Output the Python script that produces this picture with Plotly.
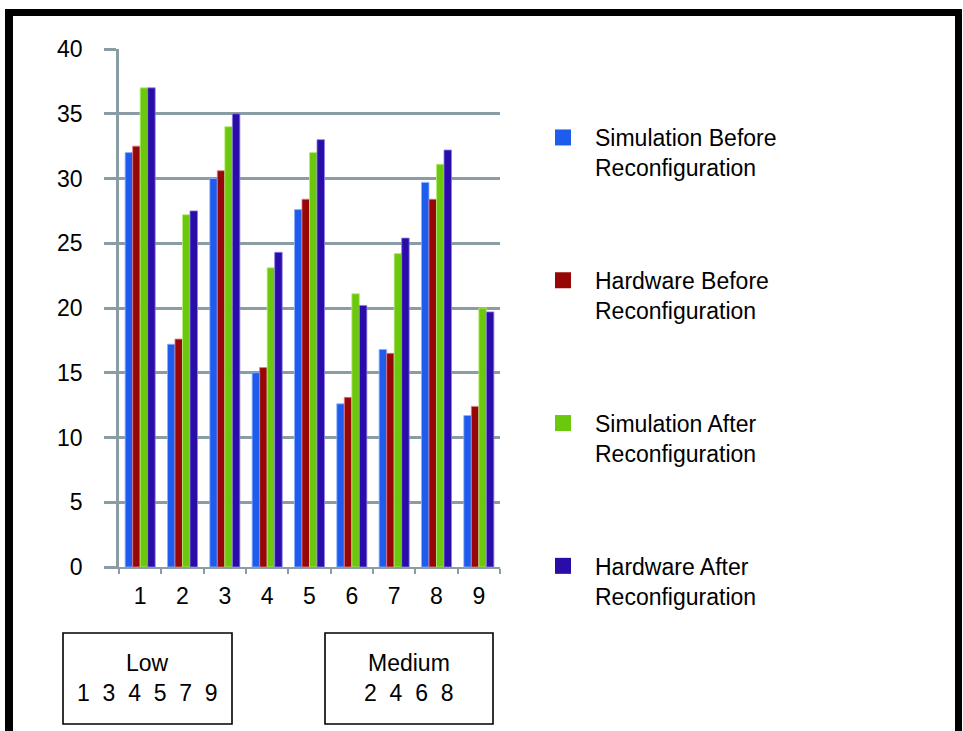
import plotly.graph_objects as go

categories = ["1", "2", "3", "4", "5", "6", "7", "8", "9"]
sim_before = [32.0, 17.2, 30.0, 15.0, 27.6, 12.6, 16.8, 29.7, 11.7]
hw_before = [32.5, 17.6, 30.6, 15.4, 28.4, 13.1, 16.5, 28.4, 12.4]
sim_after = [37.0, 27.2, 34.0, 23.1, 32.0, 21.1, 24.2, 31.1, 20.0]
hw_after = [37.0, 27.5, 35.0, 24.3, 33.0, 20.2, 25.4, 32.2, 19.7]

series_names = [
    "Simulation Before<br>Reconfiguration",
    "Hardware Before<br>Reconfiguration",
    "Simulation After<br>Reconfiguration",
    "Hardware After<br>Reconfiguration",
]
series_values = [sim_before, hw_before, sim_after, hw_after]
colors = ["#1E5CEE", "#960808", "#6CC80C", "#2A0CA8"]
edge_colors = ["#8DB4FF", "#E07A8A", "#B6EC7A", "#8E80E6"]

y_ticks = [0, 5, 10, 15, 20, 25, 30, 35, 40]
group_titles = ["Low", "Medium"]
group_members = ["1\u00a0\u00a03\u00a0\u00a04\u00a0\u00a05\u00a0\u00a07\u00a0\u00a09",
                 "2\u00a0\u00a04\u00a0\u00a06\u00a0\u00a08"]

FONT = "Liberation Sans, Arial, sans-serif"
FS = 23
W, H = 963, 731
L, R, T, B = 119, 500, 49, 567

def px_x(p):
    return (p - L) / (R - L)

def px_y(p):
    return (B - p) / (B - T)

fig = go.Figure()
for name, vals, c, ec in zip(series_names, series_values, colors, edge_colors):
    fig.add_trace(go.Bar(
        x=categories, y=vals, name=name, showlegend=False,
        marker=dict(color=c, line=dict(color=ec, width=0.8)),
    ))
for i, (name, c) in enumerate(zip(series_names, colors)):
    fig.add_trace(go.Scatter(
        x=[None], y=[None], mode="markers", name=name,
        marker=dict(symbol="square", size=18, color=c),
        legendgroup=f"g{i}",
    ))

shapes = []
# black frame bands (top, left, right)
shapes.append(dict(type="rect", xref="paper", yref="paper",
                   x0=px_x(5), x1=px_x(962), y0=px_y(9), y1=px_y(16),
                   fillcolor="black", line=dict(width=0), layer="above"))
shapes.append(dict(type="rect", xref="paper", yref="paper",
                   x0=px_x(5), x1=px_x(13), y0=px_y(9), y1=px_y(735),
                   fillcolor="black", line=dict(width=0), layer="above"))
shapes.append(dict(type="rect", xref="paper", yref="paper",
                   x0=px_x(955), x1=px_x(962), y0=px_y(9), y1=px_y(735),
                   fillcolor="black", line=dict(width=0), layer="above"))
# group boxes
box_x = [(63, 232), (325, 493)]
for x0, x1 in box_x:
    shapes.append(dict(type="rect", xref="paper", yref="paper",
                       x0=px_x(x0), x1=px_x(x1), y0=px_y(633), y1=px_y(724),
                       line=dict(color="black", width=1.6)))

annotations = []
for (x0, x1), title, members in zip(box_x, group_titles, group_members):
    cx = px_x((x0 + x1) / 2)
    annotations.append(dict(text=title, x=cx, y=px_y(663), xref="paper", yref="paper",
                            xanchor="center", yanchor="middle", showarrow=False,
                            font=dict(size=FS, color="black", family=FONT)))
    annotations.append(dict(text=members, x=cx, y=px_y(693), xref="paper", yref="paper",
                            xanchor="center", yanchor="middle", showarrow=False,
                            font=dict(size=FS, color="black", family=FONT)))

grid_c = "#8A9DA4"
fig.update_layout(
    width=W, height=H,
    margin=dict(l=L, r=W - R, t=T, b=H - B, pad=0),
    paper_bgcolor="white", plot_bgcolor="white",
    barmode="group", bargap=0.29, bargroupgap=0,
    font=dict(family=FONT, size=FS, color="black"),
    showlegend=True,
    legend=dict(
        x=px_x(531), y=px_y(116), xanchor="left", yanchor="top",
        font=dict(size=FS, family=FONT, color="black"),
        tracegroupgap=80, valign="top", bgcolor="rgba(0,0,0,0)",
        itemwidth=54,
    ),
    xaxis=dict(
        type="category", showgrid=False, showline=True, linecolor=grid_c, linewidth=2,
        ticks="outside", tickson="boundaries", ticklen=5, tickcolor=grid_c, tickwidth=2,
        ticklabelstandoff=7,
        tickfont=dict(size=FS, family=FONT, color="black"),
        fixedrange=True,
    ),
    yaxis=dict(
        range=[0, 40], tickvals=y_ticks, showgrid=True, gridcolor=grid_c, gridwidth=2.5,
        showline=True, linecolor=grid_c, linewidth=2.5,
        ticks="outside", ticklen=12, tickcolor=grid_c, tickwidth=2.5,
        ticklabelstandoff=17,
        tickfont=dict(size=FS, family=FONT, color="black"),
        zeroline=False,
    ),
    shapes=shapes,
    annotations=annotations,
)

fig.write_html("out.html", config={"displayModeBar": False},
               post_script="document.body.style.margin='0';")
